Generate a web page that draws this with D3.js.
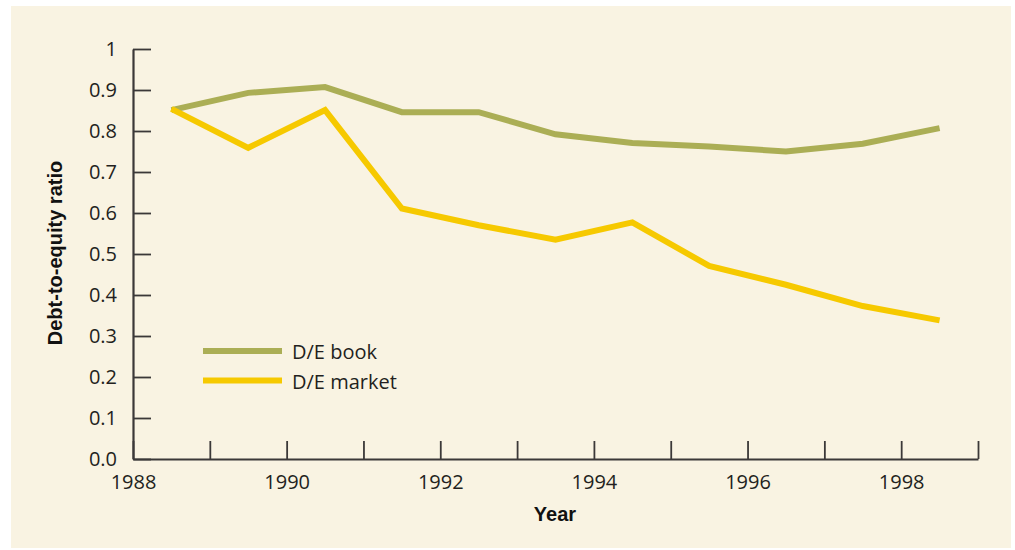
<!DOCTYPE html>
<html>
<head>
<meta charset="utf-8">
<script src="https://cdn.jsdelivr.net/npm/d3@7"></script>
<style>
  html, body { margin: 0; padding: 0; background: #ffffff; }
  svg { display: block; }
  .tick text { font-family: "Open Sans", "Noto Sans", sans-serif; fill: #231f20; }
</style>
</head>
<body>
<svg id="chart" width="1015" height="550"></svg>
<script>
// Fiscal years (each value sits in the middle of its year band)
const years = [1988, 1989, 1990, 1991, 1992, 1993, 1994, 1995, 1996, 1997, 1998];
// Debt-to-equity ratio at book value
const deBook = [0.851, 0.893, 0.907, 0.846, 0.846, 0.792, 0.771, 0.762, 0.750, 0.769, 0.807];
// Debt-to-equity ratio at market value
const deMarket = [0.854, 0.759, 0.851, 0.611, 0.570, 0.535, 0.577, 0.471, 0.425, 0.373, 0.338];
// Axis ticks and their labels
const xTicks = [1988, 1989, 1990, 1991, 1992, 1993, 1994, 1995, 1996, 1997, 1998, 1999];
const xTickLabels = ["1988", "", "1990", "", "1992", "", "1994", "", "1996", "", "1998", ""];
const yTicks = [0, 0.1, 0.2, 0.3, 0.4, 0.5, 0.6, 0.7, 0.8, 0.9, 1];
const yTickLabels = ["0.0", "0.1", "0.2", "0.3", "0.4", "0.5", "0.6", "0.7", "0.8", "0.9", "1"];
const seriesNames = ["D/E book", "D/E market"];
const seriesColors = ["#abae55", "#f6c900"];

const svg = d3.select("#chart");

// Panel background
svg.append("rect")
  .attr("x", 11).attr("y", 6)
  .attr("width", 1000).attr("height", 542)
  .attr("fill", "#f9f3e2");

const x = d3.scaleLinear().domain([1988, 1999]).range([133, 978]);
const y = d3.scaleLinear().domain([0, 1]).range([459, 49]);

const axisColor = "#3b3838";

// Y axis, ticks pointing into the plot
const yAxis = svg.append("g")
  .attr("transform", `translate(${x(1988)},0)`)
  .call(d3.axisLeft(y)
    .tickValues(yTicks)
    .tickFormat((d, i) => yTickLabels[i])
    .tickSizeInner(-18)
    .tickSizeOuter(0)
    .tickPadding(16));

// X axis, ticks pointing up into the plot
const xAxis = svg.append("g")
  .attr("transform", `translate(0,${y(0)})`)
  .call(d3.axisBottom(x)
    .tickValues(xTicks)
    .tickFormat((d, i) => xTickLabels[i])
    .tickSizeInner(-18)
    .tickSizeOuter(0)
    .tickPadding(16));

[yAxis, xAxis].forEach(g => {
  g.select(".domain").attr("stroke", axisColor).attr("stroke-width", 2.2);
  g.selectAll(".tick line").attr("stroke", axisColor).attr("stroke-width", 1.8);
  g.selectAll(".tick text").attr("font-size", 20);
});

// Axis titles
svg.append("text")
  .attr("transform", `translate(62,253) rotate(-90)`)
  .attr("text-anchor", "middle")
  .attr("font-family", "'Liberation Sans', Arial, sans-serif")
  .attr("font-weight", "bold")
  .attr("font-size", 20)
  .attr("fill", "#111")
  .text("Debt-to-equity ratio");

svg.append("text")
  .attr("x", 555).attr("y", 521)
  .attr("text-anchor", "middle")
  .attr("font-family", "'Liberation Sans', Arial, sans-serif")
  .attr("font-weight", "bold")
  .attr("font-size", 20)
  .attr("fill", "#111")
  .text("Year");

// Series lines
const line = d3.line()
  .x((d, i) => x(years[i] + 0.5))
  .y(d => y(d));

[deBook, deMarket].forEach((vals, k) => {
  svg.append("path")
    .datum(vals)
    .attr("d", line)
    .attr("fill", "none")
    .attr("stroke", seriesColors[k])
    .attr("stroke-width", 6)
    .attr("stroke-linejoin", "miter");
});

// Legend
const legend = svg.append("g");
seriesNames.forEach((name, k) => {
  const ly = 351 + k * 29.5;
  legend.append("line")
    .attr("x1", 203).attr("x2", 282)
    .attr("y1", ly).attr("y2", ly)
    .attr("stroke", seriesColors[k])
    .attr("stroke-width", 6);
  legend.append("text")
    .attr("x", 292).attr("y", ly + 8)
    .attr("font-family", "'Open Sans', 'Noto Sans', sans-serif")
    .attr("font-size", 20)
    .attr("fill", "#231f20")
    .text(name);
});
</script>
</body>
</html>
